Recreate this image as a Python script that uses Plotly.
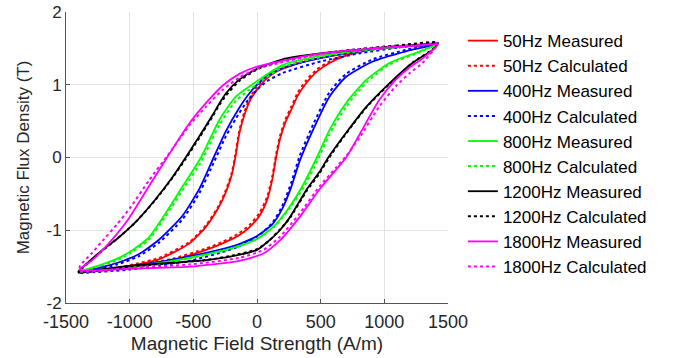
import plotly.graph_objects as go

# ---------------- data ----------------
labels = ["50Hz", "400Hz", "800Hz", "1200Hz", "1800Hz"]
colors = ["#FF0000", "#0000FF", "#00FF00", "#000000", "#FF00FF"]

# 50 Hz
h50_desc = [1420, 1200, 1000, 800, 600, 400, 250, 150, 60, 0, -50, -100, -140, -170, -200, -250, -300, -400, -530, -770, -1000, -1200, -1400]
b50_desc_meas = [1.55, 1.53, 1.50, 1.46, 1.40, 1.33, 1.25, 1.18, 1.06, 0.93, 0.80, 0.58, 0.32, 0.0, -0.25, -0.50, -0.68, -0.95, -1.18, -1.40, -1.49, -1.54, -1.57]
b50_desc_calc = [1.56, 1.54, 1.51, 1.47, 1.41, 1.34, 1.27, 1.20, 1.09, 0.97, 0.84, 0.62, 0.36, 0.04, -0.22, -0.47, -0.66, -0.93, -1.16, -1.38, -1.48, -1.54, -1.58]
h50_asc = [-1400, -1200, -1000, -660, -400, -270, -150, -60, 20, 80, 120, 150, 180, 220, 270, 320, 386, 470, 569, 700, 830, 1000, 1200, 1420]
b50_asc_meas = [-1.57, -1.55, -1.51, -1.41, -1.27, -1.18, -1.08, -0.96, -0.80, -0.58, -0.30, 0.0, 0.25, 0.47, 0.66, 0.85, 1.02, 1.18, 1.30, 1.40, 1.46, 1.50, 1.53, 1.55]
b50_asc_calc = [-1.58, -1.55, -1.50, -1.39, -1.25, -1.16, -1.05, -0.93, -0.76, -0.54, -0.26, 0.04, 0.29, 0.51, 0.70, 0.89, 1.06, 1.21, 1.32, 1.42, 1.47, 1.51, 1.54, 1.56]

# 400 Hz
h400_desc = [1420, 1100, 800, 500, 200, 80, 0, -70, -140, -245, -340, -450, -585, -770, -930, -1100, -1250, -1400]
b400_desc_meas = [1.56, 1.52, 1.46, 1.37, 1.23, 1.12, 1.00, 0.86, 0.68, 0.36, 0.0, -0.42, -0.80, -1.13, -1.33, -1.45, -1.52, -1.58]
b400_desc_calc = [1.57, 1.51, 1.43, 1.32, 1.16, 1.05, 0.93, 0.79, 0.61, 0.29, -0.07, -0.48, -0.85, -1.17, -1.36, -1.47, -1.54, -1.59]
h400_asc = [-1400, -1000, -530, -250, -140, 0, 120, 200, 270, 335, 440, 570, 700, 910, 1170, 1420]
b400_asc_meas = [-1.58, -1.50, -1.36, -1.25, -1.19, -1.08, -0.92, -0.70, -0.40, -0.05, 0.38, 0.84, 1.11, 1.32, 1.46, 1.56]
b400_asc_calc = [-1.59, -1.54, -1.42, -1.29, -1.22, -1.09, -0.90, -0.66, -0.34, 0.02, 0.45, 0.90, 1.15, 1.35, 1.48, 1.57]

# 800 Hz
h800_desc = [1420, 1100, 800, 500, 200, 0, -165, -295, -440, -585, -715, -850, -1000, -1110, -1250, -1400]
b800_desc_meas = [1.56, 1.52, 1.47, 1.40, 1.27, 1.05, 0.84, 0.52, 0.0, -0.40, -0.76, -1.10, -1.30, -1.40, -1.49, -1.57]
b800_desc_calc = [1.57, 1.52, 1.46, 1.38, 1.24, 1.01, 0.78, 0.45, -0.06, -0.45, -0.80, -1.13, -1.32, -1.42, -1.50, -1.58]
h800_asc = [-1400, -1000, -700, -400, -150, 0, 130, 255, 370, 470, 570, 700, 860, 1040, 1280, 1420]
b800_asc_meas = [-1.57, -1.50, -1.43, -1.33, -1.22, -1.12, -0.95, -0.68, -0.35, 0.0, 0.38, 0.75, 1.07, 1.30, 1.46, 1.56]
b800_asc_calc = [-1.58, -1.51, -1.44, -1.34, -1.23, -1.12, -0.96, -0.70, -0.40, -0.06, 0.32, 0.70, 1.03, 1.28, 1.45, 1.57]

# 1200 Hz
h1200_desc = [1420, 1100, 800, 500, 200, 0, -140, -245, -300, -350, -450, -560, -660, -800, -960, -1100, -1220, -1400]
b1200_desc_meas = [1.57, 1.53, 1.48, 1.43, 1.35, 1.22, 1.07, 0.88, 0.73, 0.58, 0.30, 0.0, -0.26, -0.58, -0.90, -1.12, -1.28, -1.56]
b1200_desc_calc = [1.58, 1.54, 1.49, 1.43, 1.34, 1.21, 1.05, 0.85, 0.71, 0.56, 0.28, -0.02, -0.27, -0.59, -0.90, -1.12, -1.29, -1.57]
h1200_asc = [-1400, -1000, -400, -200, 0, 90, 180, 255, 390, 490, 560, 700, 860, 1040, 1220, 1380, 1420]
b1200_asc_meas = [-1.57, -1.49, -1.41, -1.36, -1.27, -1.15, -1.00, -0.83, -0.44, -0.20, 0.0, 0.34, 0.70, 1.02, 1.30, 1.48, 1.56]
b1200_asc_calc = [-1.58, -1.50, -1.41, -1.35, -1.26, -1.15, -0.99, -0.84, -0.46, -0.22, -0.02, 0.33, 0.69, 1.01, 1.30, 1.49, 1.58]

# 1800 Hz
h1800_desc = [1420, 1200, 1000, 800, 600, 400, 200, 0, -138, -269, -400, -531, -688, -850, -1000, -1100, -1200, -1300, -1390]
b1800_desc_meas = [1.55, 1.53, 1.51, 1.48, 1.45, 1.40, 1.33, 1.25, 1.15, 0.99, 0.75, 0.47, 0.05, -0.40, -0.82, -1.05, -1.25, -1.42, -1.53]
b1800_desc_calc = [1.57, 1.54, 1.52, 1.49, 1.45, 1.39, 1.31, 1.22, 1.10, 0.93, 0.70, 0.44, 0.06, -0.32, -0.70, -0.92, -1.12, -1.32, -1.49]
h1800_asc = [-1390, -1000, -530, -140, 50, 180, 330, 490, 620, 700, 800, 960, 1090, 1200, 1300, 1420]
b1800_asc_meas = [-1.55, -1.53, -1.50, -1.42, -1.32, -1.14, -0.83, -0.44, -0.17, 0.0, 0.30, 0.79, 1.07, 1.24, 1.36, 1.55]
b1800_asc_calc = [-1.56, -1.52, -1.47, -1.38, -1.27, -1.09, -0.78, -0.40, -0.14, 0.02, 0.26, 0.70, 0.98, 1.16, 1.30, 1.55]

x_ticks = [-1500, -1000, -500, 0, 500, 1000, 1500]
y_ticks = [-2, -1, 0, 1, 2]

loops = [
    (h50_desc, b50_desc_meas, b50_desc_calc, h50_asc, b50_asc_meas, b50_asc_calc),
    (h400_desc, b400_desc_meas, b400_desc_calc, h400_asc, b400_asc_meas, b400_asc_calc),
    (h800_desc, b800_desc_meas, b800_desc_calc, h800_asc, b800_asc_meas, b800_asc_calc),
    (h1200_desc, b1200_desc_meas, b1200_desc_calc, h1200_asc, b1200_asc_meas, b1200_asc_calc),
    (h1800_desc, b1800_desc_meas, b1800_desc_calc, h1800_asc, b1800_asc_meas, b1800_asc_calc),
]

fig = go.Figure()
for lab, col, (hd, bdm, bdc, ha, bam, bac) in zip(labels, colors, loops):
    hx = list(hd) + list(ha)
    fig.add_trace(go.Scatter(
        x=hx, y=list(bdm) + list(bam), mode="lines", name=f"{lab} Measured",
        line=dict(color=col, width=1.8, shape="spline", smoothing=0.6)))
    fig.add_trace(go.Scatter(
        x=hx, y=list(bdc) + list(bac), mode="lines", name=f"{lab} Calculated",
        line=dict(color=col, width=2, dash="dot", shape="spline", smoothing=0.6)))

font_family = "Liberation Sans, Arial, sans-serif"
fig.update_layout(
    width=678, height=358,
    margin=dict(l=66, r=230, t=12, b=55),
    paper_bgcolor="white", plot_bgcolor="white",
    font=dict(family=font_family, size=18, color="#262626"),
    showlegend=True,
    legend=dict(
        x=1.039, xanchor="left", y=0.962, yanchor="top",
        font=dict(family=font_family, size=17, color="#000000"),
        bgcolor="rgba(0,0,0,0)", borderwidth=0,
        tracegroupgap=0,
    ),
)
fig.update_xaxes(
    range=[-1500, 1500], tickvals=x_ticks, ticktext=[str(v) for v in x_ticks],
    showgrid=True, gridcolor="#E3E3E3", gridwidth=1, zeroline=False,
    showline=True, linecolor="#555555", linewidth=1, mirror=False,
    ticks="inside", ticklen=4, tickcolor="#555555", automargin=False,
    ticklabelstandoff=2,
    title=dict(text="Magnetic Field Strength (A/m)", standoff=6,
               font=dict(size=19, color="#262626")),
    tickfont=dict(size=18, color="#262626"),
)
fig.update_yaxes(
    range=[-2, 2], tickvals=y_ticks, ticktext=[str(v) for v in y_ticks],
    showgrid=True, gridcolor="#E3E3E3", gridwidth=1, zeroline=False,
    showline=True, linecolor="#555555", linewidth=1, mirror=False,
    ticks="inside", ticklen=4, tickcolor="#555555", automargin=False,
    title=dict(text="Magnetic Flux Density (T)", standoff=12,
               font=dict(size=17, color="#262626")),
    tickfont=dict(size=17, color="#262626"),
)

fig.write_html("out.html")
